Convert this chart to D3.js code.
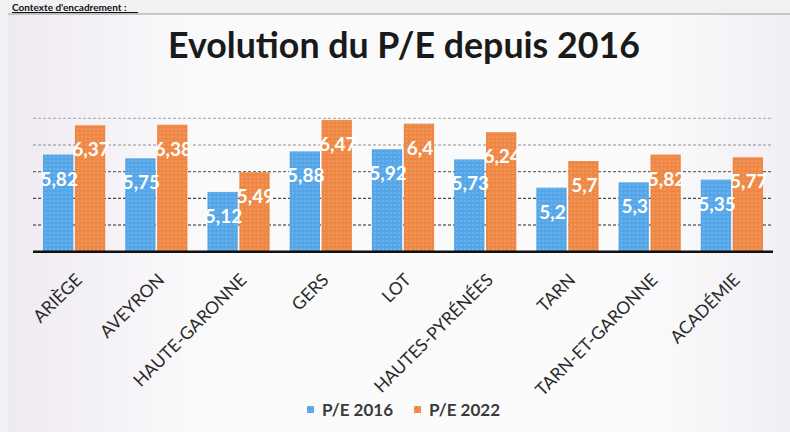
<!DOCTYPE html>
<html>
<head>
<meta charset="utf-8">
<script src="https://cdn.jsdelivr.net/npm/d3@7"></script>
<style>
  body { margin: 0; background: #f1f0f3; }
  svg { display: block; }
</style>
</head>
<body>
<svg width="790" height="432"></svg>
<script>
// departements + academie
var categories = ["ARIÈGE", "AVEYRON", "HAUTE-GARONNE", "GERS", "LOT",
                  "HAUTES-PYRÉNÉES", "TARN", "TARN-ET-GARONNE", "ACADÉMIE"];
var series = ["P/E 2016", "P/E 2022"];
var pe2016 = [5.82, 5.75, 5.12, 5.88, 5.92, 5.73, 5.2, 5.3, 5.35];
var pe2022 = [6.37, 6.38, 5.49, 6.47, 6.4, 6.24, 5.7, 5.82, 5.77];
var gridTicks = [4.5, 5, 5.5, 6, 6.5];

var colors = {"P/E 2016": "#55a6e8", "P/E 2022": "#ee8744"};

var svg = d3.select("svg"),
    width = +svg.attr("width"),
    height = +svg.attr("height");

// background gradient (scanned paper)
var defs = svg.append("defs");
var bg = defs.append("linearGradient").attr("id", "bg");
bg.append("stop").attr("offset", "0%").attr("stop-color", "#efeaf2");
bg.append("stop").attr("offset", "25%").attr("stop-color", "#fafafb");
bg.append("stop").attr("offset", "80%").attr("stop-color", "#fbfbfc");
bg.append("stop").attr("offset", "100%").attr("stop-color", "#f2eff4");

// halftone look on the bars
series.forEach(function(s, i) {
    var p = defs.append("pattern").attr("id", "pat" + i)
        .attr("width", 4).attr("height", 4).attr("patternUnits", "userSpaceOnUse");
    p.append("rect").attr("width", 4).attr("height", 4).attr("fill", colors[s]);
    p.append("circle").attr("cx", 1).attr("cy", 1).attr("r", 0.8)
        .attr("fill", "#fff").attr("opacity", 0.3);
});

// heading at the top of the scan
svg.append("text")
    .attr("x", 12).attr("y", 11)
    .attr("font-family", "Lato, 'Open Sans', sans-serif")
    .attr("font-weight", "bold").attr("font-size", 10)
    .attr("fill", "#111")
    .text("Contexte d'encadrement :");
svg.append("rect").attr("x", 12).attr("y", 12).attr("width", 126).attr("height", 1.2).attr("fill", "#111");

// chart area
svg.append("rect")
    .attr("x", 8).attr("y", 14).attr("width", width - 8).attr("height", height - 14)
    .attr("fill", "url(#bg)");
svg.append("line")
    .attr("x1", 8).attr("x2", width).attr("y1", 14).attr("y2", 14)
    .attr("stroke", "#b8b8b8").attr("stroke-width", 1.5);

// title
var title = svg.append("text")
    .attr("x", 404).attr("y", 58)
    .attr("text-anchor", "middle")
    .attr("font-family", "Lato, 'Open Sans', sans-serif")
    .attr("font-weight", "bold").attr("font-size", 36)
    .attr("fill", "#1a1a1a")
    .text("Evolution du P/E depuis 2016");
var tw = title.node().getComputedTextLength();
title.attr("font-size", 36 * 472 / tw);

var x0 = d3.scaleBand().domain(categories).range([33, 773]).paddingInner(0).paddingOuter(0);
var x1 = d3.scaleBand().domain(series).range([10, x0.bandwidth() - 10]).paddingInner(0.05);
var y = d3.scaleLinear().domain([4, 6.5]).range([251.7, 118.3]);

// gridlines
var gridColor = d3.scaleLinear().domain([4.5, 6.5]).range(["#222", "#b5b5b5"]);
svg.append("g").selectAll("line")
    .data(gridTicks)
    .join("line")
    .attr("x1", 33).attr("x2", 773)
    .attr("y1", d => y(d)).attr("y2", d => y(d))
    .attr("stroke", d => gridColor(d))
    .attr("stroke-width", 1.2)
    .attr("stroke-dasharray", "3,2");

var rows = categories.map(function(c, i) {
    return {cat: c, values: [{s: series[0], v: pe2016[i]}, {s: series[1], v: pe2022[i]}]};
});

var groups = svg.append("g").selectAll("g")
    .data(rows)
    .join("g")
    .attr("transform", d => "translate(" + x0(d.cat) + ",0)");

groups.selectAll("rect")
    .data(d => d.values)
    .join("rect")
    .attr("x", d => x1(d.s))
    .attr("width", x1.bandwidth())
    .attr("y", d => y(d.v))
    .attr("height", d => y(4) - y(d.v))
    .attr("fill", d => "url(#pat" + series.indexOf(d.s) + ")");

groups.selectAll("text")
    .data(d => d.values)
    .join("text")
    .attr("x", d => x1(d.s) + x1.bandwidth() / 2 + 1)
    .attr("y", d => y(d.v) + 31)
    .attr("text-anchor", "middle")
    .attr("font-family", "Lato, 'Open Sans', sans-serif")
    .attr("font-weight", "bold").attr("font-size", 19)
    .attr("fill", "#fff")
    .text(d => String(d.v).replace(".", ","));

// baseline
svg.append("line")
    .attr("x1", 33).attr("x2", 773).attr("y1", y(4)).attr("y2", y(4))
    .attr("stroke", "#111").attr("stroke-width", 2.5);

// category labels
svg.append("g").selectAll("text")
    .data(categories)
    .join("text")
    .attr("transform", d => "translate(" + (x0(d) + x0.bandwidth() / 2 + 9) + ",281) rotate(-45)")
    .attr("text-anchor", "end")
    .attr("font-family", "Lato, 'Open Sans', sans-serif")
    .attr("font-size", 17.5)
    .attr("fill", "#2a2a2a")
    .text(d => d);

// legend
var legend = svg.append("g").selectAll("g")
    .data(series)
    .join("g")
    .attr("transform", (d, i) => "translate(" + (307 + i * 107) + ",410)");
legend.append("rect")
    .attr("x", 0).attr("y", -4).attr("width", 7).attr("height", 7)
    .attr("fill", (d, i) => "url(#pat" + i + ")");
legend.append("text")
    .attr("x", 15).attr("y", 6)
    .attr("font-family", "Lato, 'Open Sans', sans-serif")
    .attr("font-weight", "bold").attr("font-size", 17)
    .attr("fill", "#3a3a3a")
    .text(d => d);
</script>
</body>
</html>
